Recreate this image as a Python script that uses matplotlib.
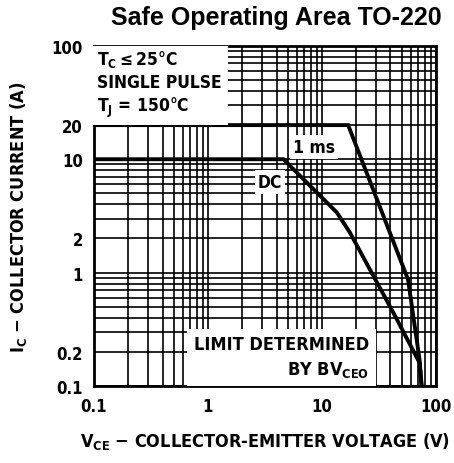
import matplotlib
matplotlib.use('Agg')
import matplotlib.pyplot as plt
from matplotlib.ticker import FixedLocator, LogLocator, NullFormatter

# -------- data --------
ms1_v = [0.1, 17, 57, 72, 75]
ms1_i = [20, 20, 0.87, 0.17, 0.1]

dc_v = [0.1, 4.6, 9, 13.5, 17.6, 43.6, 72, 75]
dc_i = [10, 10, 5.1, 3.4, 2.26, 0.42, 0.16, 0.1]

xticks = [0.1, 1, 10, 100]
xtick_labels = ['0.1', '1', '10', '100']
yticks = [0.1, 0.2, 1, 2, 10, 20, 100]
ytick_labels = ['0.1', '0.2', '1', '2', '10', '20', '100']

plt.rcParams['font.family'] = ['DejaVu Sans']
plt.rcParams['font.stretch'] = 'condensed'
plt.rcParams['mathtext.default'] = 'regular'

fig = plt.figure(figsize=(4.54, 4.64), dpi=100)
ax = fig.add_axes([0.207, 0.166, 0.753, 0.733])
ax.set_xscale('log')
ax.set_yscale('log')
ax.set_xlim(0.1, 100)
ax.set_ylim(0.1, 100)

# log grid
ax.xaxis.set_minor_locator(LogLocator(base=10, subs=range(2, 10)))
ax.yaxis.set_minor_locator(LogLocator(base=10, subs=range(2, 10)))
ax.xaxis.set_minor_formatter(NullFormatter())
ax.yaxis.set_minor_formatter(NullFormatter())
ax.grid(True, which='both', color='black', lw=1.2)
ax.tick_params(which='both', length=0, pad=8)

ax.xaxis.set_major_locator(FixedLocator(xticks))
ax.set_xticklabels(xtick_labels, fontsize=12, fontweight='bold')
ax.yaxis.set_major_locator(FixedLocator(yticks))
ax.set_yticklabels(ytick_labels, fontsize=12, fontweight='bold')
for s in ax.spines.values():
    s.set_linewidth(2)

ax.plot(ms1_v, ms1_i, color='black', lw=2.8, zorder=5, solid_joinstyle='miter')
ax.plot(dc_v, dc_i, color='black', lw=2.8, zorder=5, solid_joinstyle='miter')

box = dict(facecolor='white', edgecolor='none', pad=2)
ax.text(0.107, 95, '$T_C \\leq 25\\degree C$\nSINGLE PULSE\n$T_J$ = 150°C',
        fontsize=12.5, fontweight='bold', va='top', ha='left', linespacing=1.25,
        bbox=dict(facecolor='white', edgecolor='none', pad=4), zorder=6)
ax.text(8.5, 12.8, '1 ms', fontsize=12.5, fontweight='bold', ha='center', va='center',
        bbox=box, zorder=6)
ax.text(3.5, 6.3, 'DC', fontsize=12.5, fontweight='bold', ha='center', va='center',
        bbox=box, zorder=6)
ax.text(26, 0.115, 'LIMIT DETERMINED\nBY BV$_{CEO}$', fontsize=13, fontweight='bold',
        ha='right', va='bottom', linespacing=1.4,
        bbox=dict(facecolor='white', edgecolor='none', pad=5), zorder=6)

ax.set_xlabel('$V_{CE}$ − COLLECTOR-EMITTER VOLTAGE (V)', fontsize=13,
              fontweight='bold', labelpad=11)
ax.set_ylabel('$I_C$ − COLLECTOR CURRENT (A)', fontsize=13, fontweight='bold',
              labelpad=16)
fig.text(0.608, 0.962, 'Safe Operating Area TO-220', fontsize=18, fontweight='bold',
         ha='center', va='center', family='Liberation Sans', stretch='normal')

fig.savefig('out.png', dpi=100)
